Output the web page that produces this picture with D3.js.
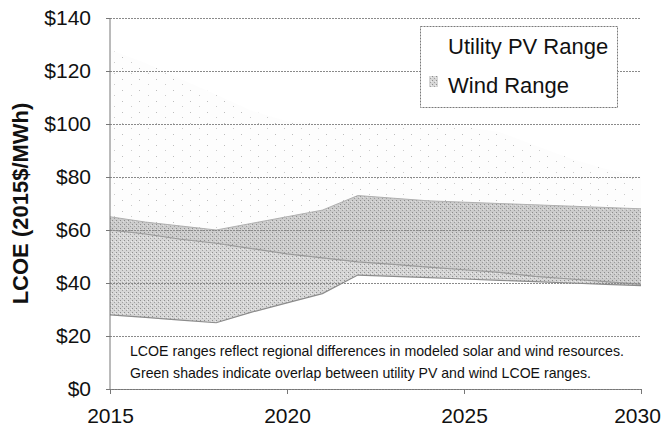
<!DOCTYPE html>
<html lang="en">

<head>
    <meta charset="utf-8">
    <title>LCOE ranges</title>
    <script type="text/javascript" src="https://cdn.jsdelivr.net/npm/d3@7"></script>
    <style>
        body {
            margin: 0;
            background: #fff;
        }

        text {
            font-family: Arial, "Liberation Sans", sans-serif;
            fill: #111;
        }

        .grid line {
            stroke: #8a8a8a;
            stroke-dasharray: 2, 1;
        }

        .axis path,
        .axis line {
            stroke: #777;
        }
    </style>
</head>

<body>

    <script type="text/javascript">
        // chart data
        var years = [2015, 2016, 2017, 2018, 2019, 2020, 2021, 2022, 2023, 2024, 2025, 2026, 2027, 2028, 2029, 2030];
        var pvHigh = [128, 123, 117, 111, 105, 101, 100, 100, 100, 100, 99, 97, 92, 87, 83, 80];
        var pvLow = [60, 58.5, 56.5, 55, 53, 51, 49.5, 48, 47, 46, 45, 44, 42.5, 41.5, 40.5, 39.5];
        var windHigh = [65, 63, 61.5, 60, 62.5, 65, 67.5, 73, 72, 71, 70.5, 70, 69.5, 69, 68.5, 68];
        var windLow = [28, 27, 26, 25, 29, 32.5, 36, 43, 42.5, 42, 41.5, 41, 40.5, 40, 39.5, 39];
        var xTicks = [2015, 2020, 2025, 2030];
        var yTicks = [0, 20, 40, 60, 80, 100, 120, 140];
        var legendLabels = ["Utility PV Range", "Wind Range"];
        var notes = ["LCOE ranges reflect regional differences in modeled solar and wind resources.",
            "Green shades indicate overlap between utility PV and wind LCOE ranges."];

        var w = 663, h = 430;
        var margin = { left: 110, right: 22, top: 18, bottom: 41 };

        var svg = d3.select("body").append("svg")
            .attr("width", w).attr("height", h);

        var x = d3.scaleLinear().domain([2015, 2030]).range([margin.left, w - margin.right]);
        var y = d3.scaleLinear().domain([0, 140]).range([h - margin.bottom, margin.top]);

        var rows = years.map(function (yr, i) {
            return { year: yr, pvLo: pvLow[i], pvHi: pvHigh[i], wLo: windLow[i], wHi: windHigh[i] };
        });

        var defs = svg.append("defs");

        // sparse stipple for the PV band
        var pvPat = defs.append("pattern").attr("id", "pvDots")
            .attr("width", 17).attr("height", 11).attr("patternUnits", "userSpaceOnUse");
        pvPat.append("rect").attr("width", 17).attr("height", 11).attr("fill", "#fdfdfd");
        pvPat.append("rect").attr("x", 3).attr("y", 2).attr("width", 1).attr("height", 1).attr("fill", "#bdbdbd");
        pvPat.append("rect").attr("x", 12).attr("y", 7).attr("width", 1).attr("height", 1).attr("fill", "#cbcbcb");

        // dense stipple for wind
        var wPat = defs.append("pattern").attr("id", "windDots")
            .attr("width", 4).attr("height", 4).attr("patternUnits", "userSpaceOnUse");
        wPat.append("rect").attr("width", 4).attr("height", 4).attr("fill", "#d6d6d6");
        wPat.append("rect").attr("x", 0).attr("y", 0).attr("width", 1).attr("height", 1).attr("fill", "#8e8e8e");
        wPat.append("rect").attr("x", 2).attr("y", 2).attr("width", 1).attr("height", 1).attr("fill", "#a0a0a0");
        wPat.append("rect").attr("x", 3).attr("y", 1).attr("width", 1).attr("height", 1).attr("fill", "#ececec");

        var pvArea = d3.area().x(d => x(d.year)).y0(d => y(d.pvLo)).y1(d => y(d.pvHi));
        var windArea = d3.area().x(d => x(d.year)).y0(d => y(d.wLo)).y1(d => y(d.wHi));

        defs.append("clipPath").attr("id", "windClip")
            .append("path").attr("d", windArea(rows));

        //Bands
        svg.append("path").attr("d", pvArea(rows)).attr("fill", "url(#pvDots)");
        svg.append("path").attr("d", windArea(rows)).attr("fill", "url(#windDots)");
        // overlap a little darker
        svg.append("path").attr("d", pvArea(rows))
            .attr("clip-path", "url(#windClip)")
            .attr("fill", "#7a7a7a").attr("fill-opacity", 0.1);

        // band edges
        svg.append("path")
            .attr("d", d3.line().x(d => x(d.year)).y(d => y(d.wLo))(rows))
            .attr("fill", "none").attr("stroke", "#8c8c8c").attr("stroke-width", 1.2);
        svg.append("path")
            .attr("d", d3.line().x(d => x(d.year)).y(d => y(d.pvLo))(rows))
            .attr("fill", "none").attr("stroke", "#9a9a9a").attr("stroke-width", 1.2);
        svg.append("path")
            .attr("d", d3.line().x(d => x(d.year)).y(d => y(d.wHi))(rows))
            .attr("fill", "none").attr("stroke", "#b0b0b0").attr("stroke-width", 1);

        //Gridlines
        svg.append("g").attr("class", "grid")
            .attr("transform", "translate(" + margin.left + ",0)")
            .call(d3.axisLeft(y).tickValues(yTicks).tickSize(-(w - margin.left - margin.right)).tickFormat(""))
            .call(g => g.select(".domain").remove());

        //Y axis
        svg.append("g").attr("class", "axis")
            .attr("transform", "translate(" + margin.left + ",0)")
            .call(d3.axisLeft(y).tickValues(yTicks).tickSize(4).tickPadding(15).tickFormat(d => "$" + d))
            .call(g => g.select(".domain").attr("d", "M0," + y(140) + "V" + y(0)))
            .selectAll("text").style("font-size", "21px").attr("fill", "#111");

        //X axis
        var xg = svg.append("g").attr("class", "axis")
            .attr("transform", "translate(0," + y(0) + ")")
            .call(d3.axisBottom(x).tickValues(xTicks).tickSize(5).tickPadding(14).tickFormat(d3.format("d")))
            .call(g => g.select(".domain").attr("stroke", "#8a8a8a").attr("stroke-dasharray", "2,1"));
        xg.selectAll("text").style("font-size", "21px").attr("fill", "#111")
            .attr("dx", d => d == 2030 ? -4 : 0);

        //Y title
        svg.append("text")
            .attr("transform", "translate(28," + (y(70)) + ") rotate(-90)")
            .attr("text-anchor", "middle")
            .style("font-size", "22px").style("font-weight", "bold")
            .text("LCOE (2015$/MWh)");

        //Legend
        var lg = svg.append("g");
        lg.append("rect").attr("x", 420.5).attr("y", 26.5).attr("width", 197).attr("height", 81)
            .attr("fill", "#fff").attr("stroke", "#7a7a7a").attr("stroke-dasharray", "2,1");
        lg.append("rect").attr("x", 429).attr("y", 76).attr("width", 9).attr("height", 11)
            .attr("fill", "url(#windDots)");
        lg.selectAll("text.leg").data(legendLabels).enter().append("text")
            .attr("class", "leg")
            .attr("x", 448).attr("y", (d, i) => 54 + i * 39)
            .style("font-size", "22px")
            .text(d => d);

        //Notes
        var noteWidths = [494, 461];
        svg.selectAll("text.note").data(notes).enter().append("text")
            .attr("class", "note")
            .attr("x", 130).attr("y", (d, i) => 356 + i * 22)
            .attr("textLength", (d, i) => noteWidths[i])
            .attr("lengthAdjust", "spacingAndGlyphs")
            .style("font-size", "14.5px")
            .text(d => d);
    </script>

</body>

</html>
